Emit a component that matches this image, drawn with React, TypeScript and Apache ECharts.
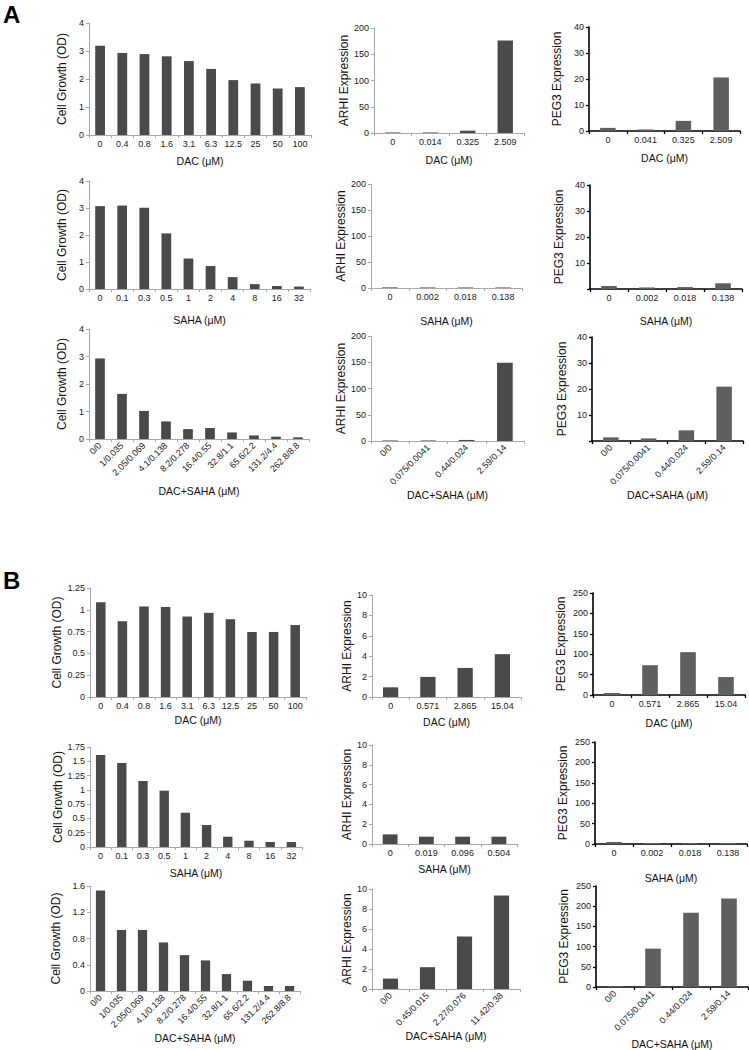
import React, { useEffect, useRef } from "react";
import * as echarts from "echarts";

// ---------- categories ----------
const dacDoses = ["0", "0.4", "0.8", "1.6", "3.1", "6.3", "12.5", "25", "50", "100"];
const sahaDoses = ["0", "0.1", "0.3", "0.5", "1", "2", "4", "8", "16", "32"];
const comboDoses = ["0/0", "1/0.035", "2.05/0.069", "4.1/0.138", "8.2/0.278", "16.4/0.55", "32.8/1.1", "65.6/2.2", "131.2/4.4", "262.8/8.8"];

const aArhiDacCats = ["0", "0.014", "0.325", "2.509"];
const aPegDacCats = ["0", "0.041", "0.325", "2.509"];
const sahaExprCats = ["0", "0.002", "0.018", "0.138"];
const comboExprCats = ["0/0", "0.075/0.0041", "0.44/0.024", "2.59/0.14"];
const bDacExprCats = ["0", "0.571", "2.865", "15.04"];
const bArhiSahaCats = ["0", "0.019", "0.096", "0.504"];
const bArhiComboCats = ["0/0", "0.45/0.015", "2.27/0.076", "11.42/0.38"];

// ---------- values: panel A ----------
const aGrowthDac = [3.19, 2.93, 2.89, 2.81, 2.64, 2.36, 1.96, 1.84, 1.66, 1.71];
const aArhiDac = [1, 1, 4.4, 176];
const aPegDac = [1.2, 0.6, 3.9, 20.6];
const aGrowthSaha = [3.07, 3.09, 3.01, 2.06, 1.13, 0.85, 0.44, 0.18, 0.11, 0.09];
const aArhiSaha = [1.2, 1.0, 1.0, 1.0];
const aPegSaha = [1.15, 0.6, 0.75, 2.2];
const aGrowthCombo = [2.93, 1.64, 1.02, 0.64, 0.36, 0.4, 0.24, 0.13, 0.085, 0.06];
const aArhiCombo = [1, 1, 2, 149];
const aPegCombo = [1.4, 1.0, 4.1, 20.9];

// ---------- values: panel B ----------
const bGrowthDac = [1.088, 0.869, 1.038, 1.031, 0.923, 0.965, 0.892, 0.746, 0.746, 0.825];
const bArhiDac = [0.95, 1.97, 2.85, 4.2];
const bPegDac = [5, 73, 105, 44];
const bGrowthSaha = [1.61, 1.47, 1.155, 0.986, 0.6, 0.385, 0.18, 0.11, 0.087, 0.087];
const bArhiSaha = [0.97, 0.74, 0.74, 0.74];
const bPegSaha = [5, 2.5, 2.5, 2.5];
const bGrowthCombo = [1.53, 0.93, 0.93, 0.74, 0.547, 0.466, 0.258, 0.157, 0.076, 0.076];
const bArhiCombo = [1.04, 2.18, 5.25, 9.34];
const bPegCombo = [2.5, 95, 184, 219];

const FONT = "Liberation Sans, Arial, Helvetica, sans-serif";

type Kind = "cg" | "arhi" | "peg";
interface Panel {
  g: [number, number, number, number];
  cats: string[];
  data: number[];
  max: number;
  iv: number;
  kind: Kind;
  x: string;
  xg: number;
  yg: number;
  rotate?: boolean;
  hideZero?: boolean;
}

const yNames: Record<Kind, string> = {
  cg: "Cell Growth (OD)",
  arhi: "ARHI Expression",
  peg: "PEG3 Expression",
};

const panels: Panel[] = [
  // A row 1
  { g: [89, 23, 222, 112], cats: dacDoses, data: aGrowthDac, max: 4, iv: 1, kind: "cg", x: "DAC (μM)", xg: 20, yg: 21 },
  { g: [374, 28, 150, 105], cats: aArhiDacCats, data: aArhiDac, max: 200, iv: 50, kind: "arhi", x: "DAC (μM)", xg: 21, yg: 24 },
  { g: [589, 27, 151, 104], cats: aPegDacCats, data: aPegDac, max: 40, iv: 10, kind: "peg", x: "DAC (μM)", xg: 21, yg: 26 },
  // A row 2
  { g: [89, 181, 221, 108], cats: sahaDoses, data: aGrowthSaha, max: 4, iv: 1, kind: "cg", x: "SAHA (μM)", xg: 25, yg: 21 },
  { g: [371, 184, 151, 104], cats: sahaExprCats, data: aArhiSaha, max: 200, iv: 50, kind: "arhi", x: "SAHA (μM)", xg: 27, yg: 21 },
  { g: [590, 185, 152, 104], cats: sahaExprCats, data: aPegSaha, max: 40, iv: 10, kind: "peg", x: "SAHA (μM)", xg: 26, yg: 25, hideZero: true },
  // A row 3
  { g: [89, 329, 220, 110], cats: comboDoses, data: aGrowthCombo, max: 4, iv: 1, kind: "cg", x: "DAC+SAHA (μM)", xg: 46, yg: 21, rotate: true },
  { g: [371, 336, 153, 105], cats: comboExprCats, data: aArhiCombo, max: 200, iv: 50, kind: "arhi", x: "DAC+SAHA (μM)", xg: 39, yg: 21, rotate: true },
  { g: [592, 337, 151, 104], cats: comboExprCats, data: aPegCombo, max: 40, iv: 10, kind: "peg", x: "DAC+SAHA (μM)", xg: 47, yg: 24, rotate: true, hideZero: true },
  // B row 1
  { g: [90, 588, 216, 109], cats: dacDoses, data: bGrowthDac, max: 1.25, iv: 0.25, kind: "cg", x: "DAC (μM)", xg: 17, yg: 27 },
  { g: [372, 595, 149, 102], cats: bDacExprCats, data: bArhiDac, max: 10, iv: 2, kind: "arhi", x: "DAC (μM)", xg: 19, yg: 19 },
  { g: [593, 593, 152, 102], cats: bDacExprCats, data: bPegDac, max: 250, iv: 50, kind: "peg", x: "DAC (μM)", xg: 22, yg: 26 },
  // B row 2
  { g: [90, 747, 212, 100], cats: sahaDoses, data: bGrowthSaha, max: 1.75, iv: 0.25, kind: "cg", x: "SAHA (μM)", xg: 20, yg: 26 },
  { g: [372, 745, 145, 99], cats: bArhiSahaCats, data: bArhiSaha, max: 10, iv: 2, kind: "arhi", x: "SAHA (μM)", xg: 19, yg: 19 },
  { g: [595, 742, 152, 102], cats: sahaExprCats, data: bPegSaha, max: 250, iv: 50, kind: "peg", x: "SAHA (μM)", xg: 28, yg: 26 },
  // B row 3
  { g: [90, 886, 210, 105], cats: comboDoses, data: bGrowthCombo, max: 1.6, iv: 0.4, kind: "cg", x: "DAC+SAHA (μM)", xg: 40, yg: 28, rotate: true },
  { g: [372, 889, 148, 100], cats: bArhiComboCats, data: bArhiCombo, max: 10, iv: 2, kind: "arhi", x: "DAC+SAHA (μM)", xg: 41, yg: 19, rotate: true },
  { g: [596, 886, 152, 103], cats: comboExprCats, data: bPegCombo, max: 250, iv: 50, kind: "peg", x: "DAC+SAHA (μM)", xg: 51, yg: 26, rotate: true },
];

function buildOption() {
  const grid: any[] = [];
  const xAxis: any[] = [];
  const yAxis: any[] = [];
  const series: any[] = [];
  panels.forEach((p, i) => {
    const peg = p.kind === "peg";
    const lineColor = peg ? "#000" : "#a8a8a8";
    const lineWidth = peg ? 1.6 : 1;
    grid.push({ left: p.g[0], top: p.g[1], width: p.g[2], height: p.g[3], containLabel: false });
    xAxis.push({
      type: "category",
      gridIndex: i,
      data: p.cats,
      boundaryGap: true,
      axisLine: { lineStyle: { color: lineColor, width: lineWidth } },
      axisTick: { show: true, length: 3, lineStyle: { color: lineColor, width: peg ? 1.3 : 1 } },
      axisLabel: {
        interval: 0,
        fontSize: 9,
        fontFamily: FONT,
        color: "#1a1a1a",
        margin: p.rotate ? 5 : 4,
        rotate: p.rotate ? 45 : 0,
      },
      name: p.x,
      nameLocation: "middle",
      nameGap: p.xg,
      nameTextStyle: { fontSize: 10.5, fontFamily: FONT, color: "#111" },
      splitLine: { show: false },
    });
    yAxis.push({
      type: "value",
      gridIndex: i,
      min: 0,
      max: p.max,
      interval: p.iv,
      axisLine: { show: true, lineStyle: { color: lineColor, width: lineWidth } },
      axisTick: { show: true, length: 3, lineStyle: { color: lineColor, width: peg ? 1.3 : 1 } },
      axisLabel: {
        fontSize: 9,
        fontFamily: FONT,
        color: "#1a1a1a",
        margin: 5,
        formatter: (v: number) => (p.hideZero && v === 0 ? "" : String(+v.toFixed(2))),
      },
      splitLine: { show: false },
      name: yNames[p.kind],
      nameLocation: "middle",
      nameRotate: 90,
      nameGap: p.yg,
      nameTextStyle: { fontSize: 12, fontFamily: FONT, color: "#111" },
    });
    series.push({
      type: "bar",
      xAxisIndex: i,
      yAxisIndex: i,
      data: p.data,
      barWidth: p.kind === "cg" ? "44%" : "41%",
      itemStyle: { color: peg ? "#5f5f5f" : "#4a4a4a" },
      silent: true,
    });
  });
  return {
    animation: false,
    backgroundColor: "#ffffff",
    grid,
    xAxis,
    yAxis,
    series,
    graphic: [
      { type: "text", left: 3, top: 2, style: { text: "A", fontSize: 24, fontWeight: "bold", fontFamily: FONT, fill: "#000" } },
      { type: "text", left: 3, top: 568, style: { text: "B", fontSize: 24, fontWeight: "bold", fontFamily: FONT, fill: "#000" } },
    ],
  };
}

export default function App() {
  const ref = useRef<HTMLDivElement>(null);
  useEffect(() => {
    if (!ref.current) return;
    const chart = echarts.init(ref.current, undefined, { renderer: "svg" });
    chart.setOption(buildOption() as any);
    return () => chart.dispose();
  }, []);
  return (
    <div
      ref={ref}
      style={{ position: "absolute", left: 0, top: 0, width: 749, height: 1050, background: "#fff" }}
    />
  );
}
